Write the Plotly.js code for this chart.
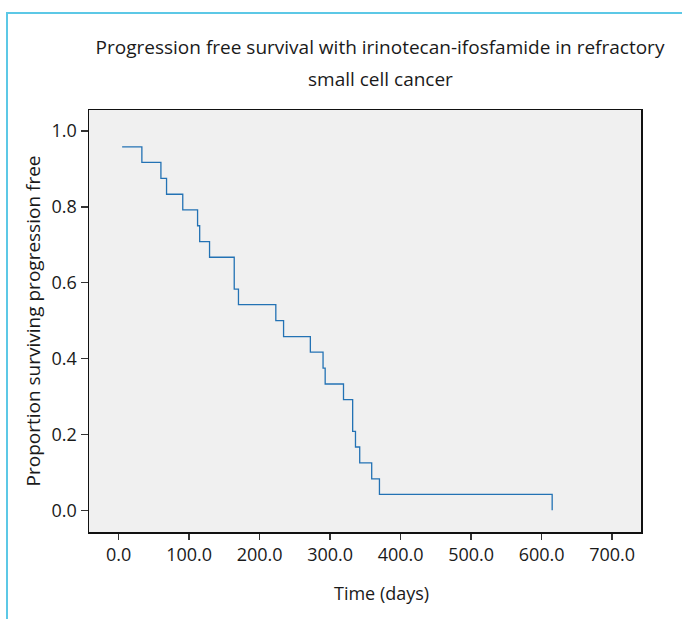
<!DOCTYPE html>
<html>
<head>
<meta charset="utf-8">
<script src="https://cdn.plot.ly/plotly-3.0.1.min.js"></script>
<style>
  html, body { margin: 0; padding: 0; background: #ffffff; }
  #wrap { position: relative; width: 682px; height: 619px; }
  #chart { width: 682px; height: 619px; }
  #frame { position: absolute; left: 6px; top: 12px; width: 676px; height: 607px;
           border-top: 2px solid #5cc8e6; border-left: 2px solid #5cc8e6;
           box-sizing: border-box; pointer-events: none; }
</style>
</head>
<body>
<div id="wrap">
  <div id="chart"></div>
  <div id="frame"></div>
</div>
<script>
// Kaplan-Meier step points (time in days, proportion progression free)
const timeDays = [5, 33, 60, 68, 91, 112, 115, 129, 164, 170, 223, 234, 272, 290, 293, 319, 332, 336, 342, 359, 370, 615];
const proportionFree = [0.958, 0.917, 0.875, 0.833, 0.792, 0.750, 0.708, 0.667, 0.583, 0.542, 0.500, 0.458, 0.417, 0.375, 0.333, 0.292, 0.208, 0.167, 0.125, 0.083, 0.042, 0.0];
const xTickVals = [0, 100, 200, 300, 400, 500, 600, 700];
const yTickVals = [0, 0.2, 0.4, 0.6, 0.8, 1.0];
const titleLine1 = "Progression free survival with irinotecan-ifosfamide in refractory";
const titleLine2 = "small cell cancer";
const xTitle = "Time (days)";
const yTitle = "Proportion surviving progression free";

const FONT = "Open Sans, Noto Sans, sans-serif";
const TXT = "#1a1a1a";

const trace = {
  x: timeDays,
  y: proportionFree,
  type: "scatter",
  mode: "lines",
  line: { shape: "hv", color: "#2372b4", width: 1.3 },
  hoverinfo: "skip",
  showlegend: false
};

const layout = {
  width: 682,
  height: 619,
  margin: { l: 89, r: 41, t: 110, b: 87 },
  paper_bgcolor: "rgba(0,0,0,0)",
  plot_bgcolor: "#f0f0f0",
  font: { family: FONT, color: TXT, size: 18 },
  title: {
    text: titleLine1,
    font: { family: FONT, size: 19, color: TXT },
    x: 380 / 682, xref: "container", xanchor: "center",
    y: 1 - 47 / 619, yref: "container", yanchor: "middle"
  },
  xaxis: {
    range: [-42, 741],
    tickvals: xTickVals,
    ticktext: xTickVals.map(v => v.toFixed(1)),
    ticks: "outside", ticklen: 6, tickwidth: 1.5, tickcolor: "#333",
    showline: true, mirror: true, linecolor: "#111", linewidth: 1.5,
    showgrid: false, zeroline: false,
    tickfont: { family: FONT, size: 18, color: TXT }
  },
  yaxis: {
    range: [-0.057, 1.055],
    tickvals: yTickVals,
    ticktext: yTickVals.map(v => v.toFixed(1)),
    ticks: "outside", ticklen: 7, tickwidth: 1.5, tickcolor: "#333",
    showline: true, mirror: true, linecolor: "#111", linewidth: 1.5,
    showgrid: false, zeroline: false,
    tickfont: { family: FONT, size: 18, color: TXT },
    title: { text: yTitle, font: { family: FONT, size: 19, color: TXT }, standoff: 6 }
  },
  annotations: [
    {
      text: titleLine2, showarrow: false,
      xref: "paper", yref: "paper",
      x: (380 - 89) / 552, y: (531.7 - 79) / 422,
      xanchor: "center", yanchor: "middle",
      font: { family: FONT, size: 19, color: TXT }
    },
    {
      text: xTitle, showarrow: false,
      xref: "paper", yref: "paper",
      x: (381 - 89) / 552, y: (531.7 - 593) / 422,
      xanchor: "center", yanchor: "middle",
      font: { family: FONT, size: 18, color: TXT }
    }
  ]
};

Plotly.newPlot("chart", [trace], layout, { displayModeBar: false, staticPlot: true });
</script>
</body>
</html>
